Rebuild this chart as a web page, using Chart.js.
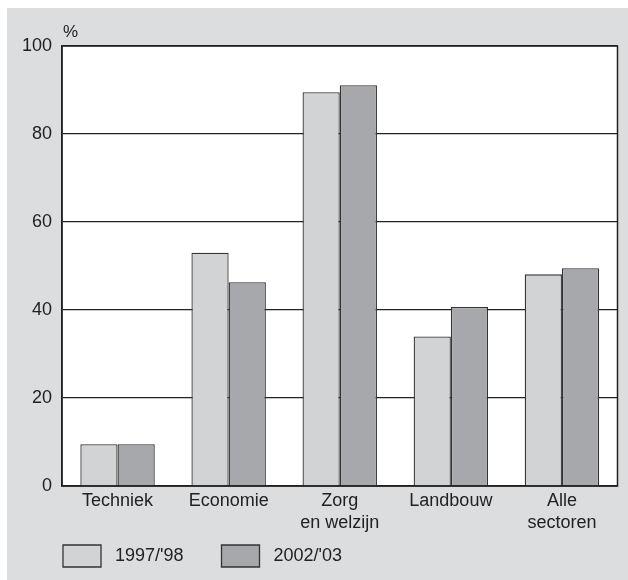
<!DOCTYPE html>
<html>
<head>
<meta charset="utf-8">
<script src="https://cdn.jsdelivr.net/npm/chart.js@4.4.0/dist/chart.umd.min.js"></script>
<style>
  body { margin: 0; background: #fff; }
  #wrap { position: absolute; left: 7px; top: 8px; width: 621px; height: 572px; background: #dcdddf; }
</style>
</head>
<body>
<div id="wrap"><canvas id="chart"></canvas></div>
<script>
const categories = ['Techniek', 'Economie', ['Zorg', 'en welzijn'], 'Landbouw', ['Alle', 'sectoren']];
const seriesNames = ["1997/'98", "2002/'03"];
const values1997 = [9.5, 53.0, 89.5, 34.0, 48.1];
const values2002 = [9.5, 46.3, 91.1, 40.7, 49.5];
const yMin = 0;
const yMax = 100;
const yStep = 20;

const fontFamily = '"Liberation Sans", Arial, sans-serif';
const ink = '#222';

// white plot area, full frame and the % sign
const plotBox = {
  id: 'plotBox',
  beforeDraw(chart) {
    const { ctx, chartArea } = chart;
    ctx.save();
    ctx.fillStyle = '#fff';
    ctx.fillRect(chartArea.left, chartArea.top, chartArea.right - chartArea.left, chartArea.bottom - chartArea.top);
    ctx.restore();
  },
  afterDraw(chart) {
    const { ctx, chartArea } = chart;
    ctx.save();
    ctx.strokeStyle = ink;
    ctx.lineWidth = 1.5;
    ctx.strokeRect(chartArea.left, chartArea.top, chartArea.right - chartArea.left, chartArea.bottom - chartArea.top);
    ctx.fillStyle = ink;
    ctx.font = '17px ' + fontFamily;
    ctx.textAlign = 'left';
    ctx.textBaseline = 'alphabetic';
    ctx.fillText('%', chartArea.left + 1, chartArea.top - 9);
    ctx.restore();
  }
};

// move the legend so it lines up under the plot, like the original
const legendShift = {
  id: 'legendShift',
  afterLayout(chart) {
    const lg = chart.legend;
    if (!lg) return;
    const w = lg.width;
    lg.left = 18;
    lg.right = lg.left + w;
    lg.top = chart.chartArea.bottom + 21;
    lg.height = 70;
    lg.bottom = lg.top + lg.height;
  }
};

new Chart(document.getElementById('chart'), {
  type: 'bar',
  data: {
    labels: categories,
    datasets: [
      {
        label: seriesNames[0],
        data: values1997,
        backgroundColor: '#d2d3d5',
        borderColor: '#333',
        borderWidth: 1.3
      },
      {
        label: seriesNames[1],
        data: values2002,
        backgroundColor: '#a7a8ab',
        borderColor: '#333',
        borderWidth: 1.3
      }
    ]
  },
  options: {
    responsive: true,
    maintainAspectRatio: false,
    animation: false,
    layout: { padding: { left: 0, top: 38, right: 10.5, bottom: 3 } },
    datasets: { bar: { categoryPercentage: 0.67, barPercentage: 1 } },
    scales: {
      x: {
        grid: { display: false, drawTicks: false },
        border: { display: true, color: ink, width: 1.5 },
        ticks: {
          color: ink,
          padding: 5,
          maxRotation: 0,
          autoSkip: false,
          font: { size: 18, family: fontFamily, lineHeight: 1.17 }
        },
        afterFit(scale) { scale.height = 59; }
      },
      y: {
        min: yMin,
        max: yMax,
        grid: { color: ink, lineWidth: 1.2, drawTicks: false },
        border: { display: true, color: ink, width: 1.5 },
        ticks: {
          stepSize: yStep,
          color: ink,
          padding: 10,
          font: { size: 18, family: fontFamily }
        },
        afterFit(scale) { scale.width = 55; }
      }
    },
    plugins: {
      tooltip: { enabled: false },
      legend: {
        position: 'bottom',
        align: 'start',
        maxHeight: 32,
        labels: {
          boxWidth: 38,
          boxHeight: 22,
          padding: 38,
          color: ink,
          font: { size: 18, family: fontFamily },
          generateLabels(chart) {
            return Chart.defaults.plugins.legend.labels.generateLabels(chart).map(item => {
              item.text = ' ' + item.text;
              return item;
            });
          }
        }
      }
    }
  },
  plugins: [plotBox, legendShift]
});
</script>
</body>
</html>
